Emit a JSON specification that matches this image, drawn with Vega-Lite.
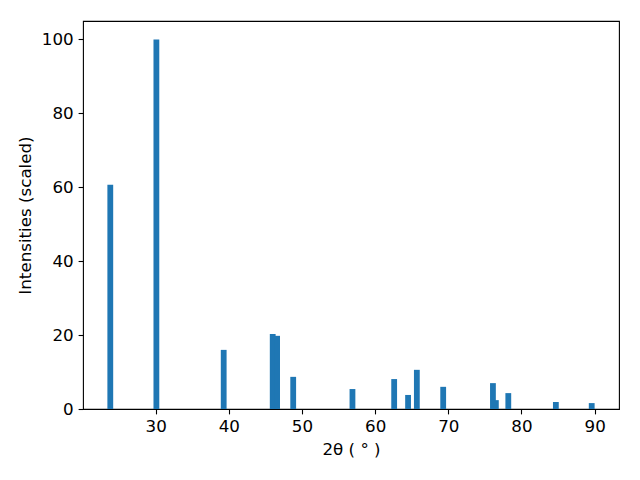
{
  "$schema": "https://vega.github.io/schema/vega-lite/v6.json",
  "width": 536,
  "height": 388,
  "autosize": {"type": "none"},
  "padding": {"left": 83, "top": 21, "right": 21, "bottom": 71},
  "background": "white",
  "config": {
    "font": "DejaVu Sans",
    "view": {"stroke": "black", "strokeWidth": 1.1},
    "axis": {
      "grid": false,
      "domain": false,
      "tickColor": "black",
      "tickSize": 4.9,
      "tickWidth": 1.1,
      "labelFont": "DejaVu Sans",
      "labelFontSize": 16.7,
      "labelColor": "black",
      "labelPadding": 4.9,
      "titleFont": "DejaVu Sans",
      "titleFontSize": 16.7,
      "titleFontWeight": "normal",
      "titleColor": "black"
    }
  },
  "data": {
    "values": [
      {"two_theta": 23.8, "intensity": 60.7},
      {"two_theta": 30.1, "intensity": 100},
      {"two_theta": 39.3, "intensity": 16.0},
      {"two_theta": 46.0, "intensity": 20.3},
      {"two_theta": 46.6, "intensity": 19.8},
      {"two_theta": 48.8, "intensity": 8.7},
      {"two_theta": 56.9, "intensity": 5.4},
      {"two_theta": 62.6, "intensity": 8.1},
      {"two_theta": 64.5, "intensity": 3.8},
      {"two_theta": 65.7, "intensity": 10.6},
      {"two_theta": 69.3, "intensity": 6.0},
      {"two_theta": 76.1, "intensity": 7.0},
      {"two_theta": 76.5, "intensity": 2.4},
      {"two_theta": 78.2, "intensity": 4.3},
      {"two_theta": 84.7, "intensity": 1.9},
      {"two_theta": 89.6, "intensity": 1.6}
    ]
  },
  "mark": {"type": "bar", "color": "#1f77b4", "size": 5.8},
  "encoding": {
    "x": {
      "field": "two_theta",
      "type": "quantitative",
      "scale": {"domain": [20.07, 93.33], "nice": false, "zero": false, "padding": 0},
      "axis": {"values": [30, 40, 50, 60, 70, 80, 90], "title": "2θ ( ° )", "titlePadding": 6}
    },
    "y": {
      "field": "intensity",
      "type": "quantitative",
      "scale": {"domain": [0, 105], "nice": false, "padding": 0},
      "axis": {"values": [0, 20, 40, 60, 80, 100], "title": "Intensities (scaled)", "titlePadding": 7}
    }
  }
}
